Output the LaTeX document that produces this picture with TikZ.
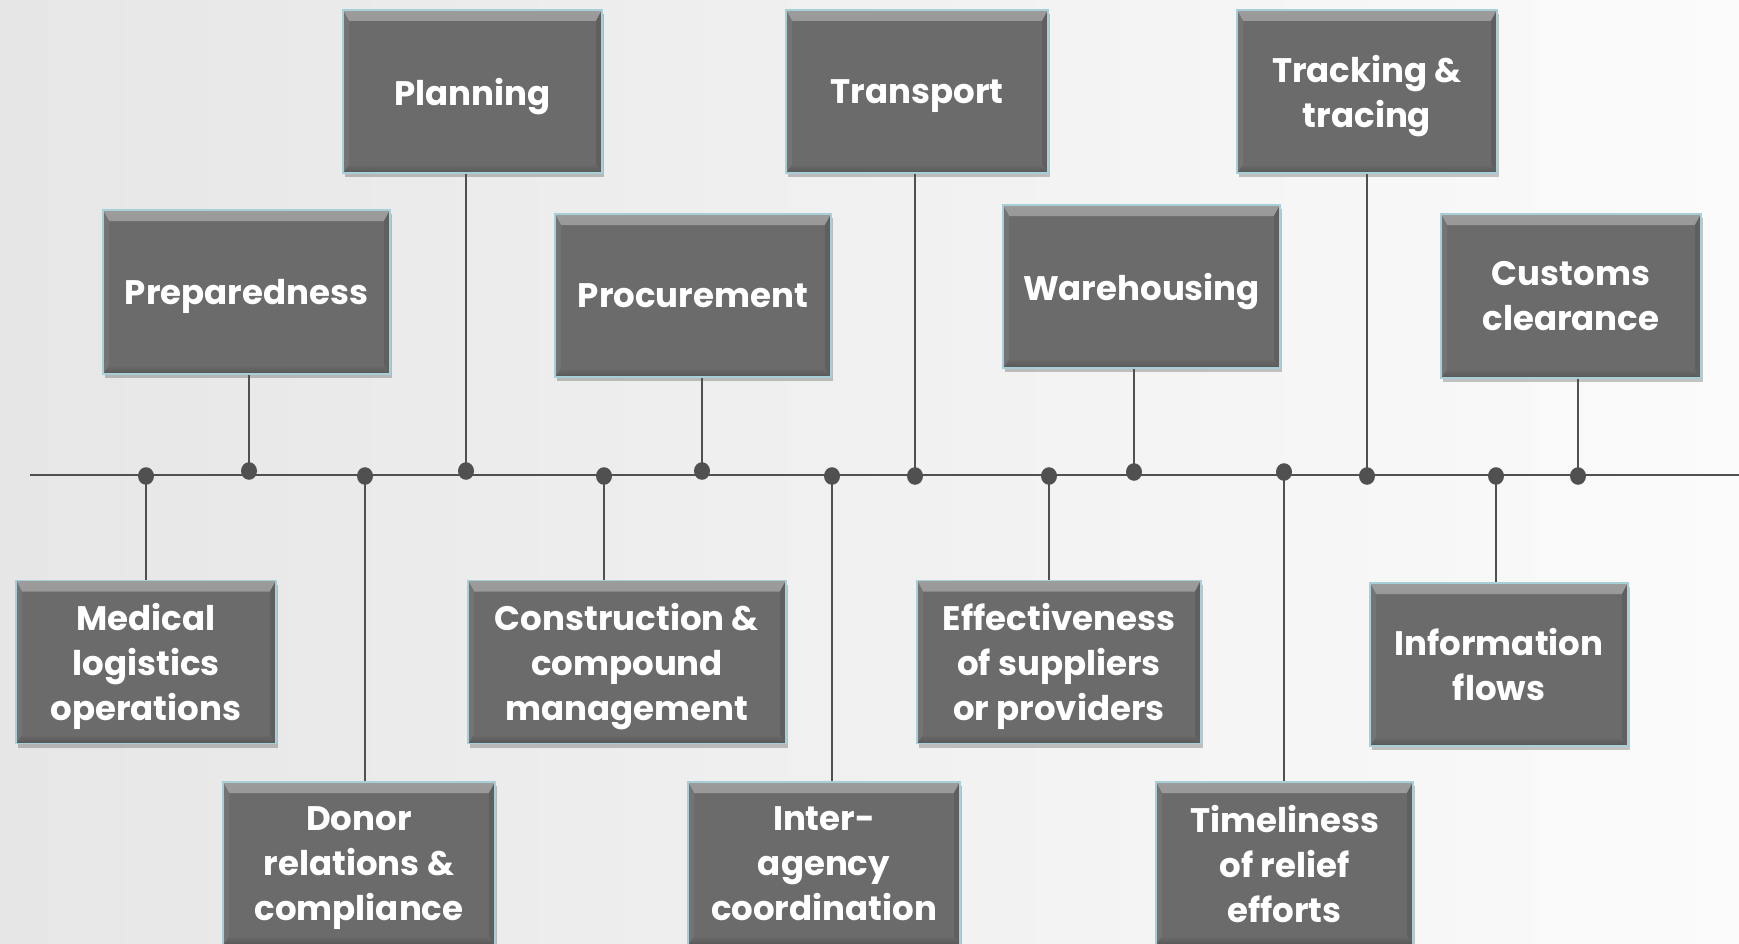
\documentclass[tikz,border=0pt]{standalone}
\usepackage{fontspec}
\setmainfont{Poppins}
\usetikzlibrary{shadows}
\definecolor{boxgray}{HTML}{6B6B6B}
\definecolor{bevtop}{HTML}{9C9C9C}
\definecolor{bevbot}{HTML}{575757}
\definecolor{bevleft}{HTML}{747474}
\definecolor{bevright}{HTML}{5F5F5F}
\definecolor{edgeblue}{HTML}{A6CFD8}
\definecolor{linegray}{HTML}{505050}
\definecolor{bgleft}{HTML}{E6E6E6}
\definecolor{bgright}{HTML}{FBFBFB}
\tikzset{
  bevel/.style={path picture={
    \shade[top color=bevtop, bottom color=boxgray]
      (path picture bounding box.north west) -- (path picture bounding box.north east)
      -- ([xshift=-6pt,yshift=-11pt]path picture bounding box.north east)
      -- ([xshift=6pt,yshift=-11pt]path picture bounding box.north west) -- cycle;
    \shade[top color=boxgray, bottom color=bevbot]
      (path picture bounding box.south west) -- (path picture bounding box.south east)
      -- ([xshift=-6pt,yshift=9pt]path picture bounding box.south east)
      -- ([xshift=6pt,yshift=9pt]path picture bounding box.south west) -- cycle;
    \fill[bevleft]
      (path picture bounding box.north west) -- ([xshift=6pt,yshift=-11pt]path picture bounding box.north west)
      -- ([xshift=6pt,yshift=9pt]path picture bounding box.south west)
      -- (path picture bounding box.south west) -- cycle;
    \fill[bevright]
      (path picture bounding box.north east) -- ([xshift=-6pt,yshift=-11pt]path picture bounding box.north east)
      -- ([xshift=-6pt,yshift=9pt]path picture bounding box.south east)
      -- (path picture bounding box.south east) -- cycle;
  }},
  box/.style={draw=edgeblue, line width=1.6pt, fill=boxgray, minimum height=163pt,
    inner sep=0pt, align=center, text=white, text depth=0pt,
    font=\fontsize{34}{45}\selectfont\bfseries,
    drop shadow={shadow xshift=1.5pt, shadow yshift=-4pt, opacity=0.22, fill=black},
    bevel},
  conn/.style={draw=linegray, line width=2pt},
  dotn/.style={circle, fill=linegray, inner sep=0pt, minimum size=16pt, yscale=1.1}
}
\begin{document}
\begin{tikzpicture}[x=1pt,y=-1pt]
\clip (0,0) rectangle (1739,944);
\shade[left color=bgleft, right color=bgright] (0,0) rectangle (1739,944);

% top row boxes
\node[box, minimum width=259pt] (planning) at (472.5,91.5) {Planning};
\node[box, minimum width=262pt] (transport) at (917,91.5) {Transport};
\node[box, minimum width=260pt] (tracking) at (1367,91.5) {Tracking \&\\tracing};
% second row
\node[box, minimum width=287pt, minimum height=164pt] (prep) at (246.5,292) {Preparedness};
\node[box, minimum width=276pt] (procure) at (693,295.5) {Procurement};
\node[box, minimum width=277pt] (ware) at (1141.5,286.5) {Warehousing};
\node[box, minimum width=260pt, minimum height=164pt] (customs) at (1571,296) {Customs\\clearance};
% third row
\node[box, minimum width=260pt] (medical) at (146,662) {Medical\\logistics\\operations};
\node[box, minimum width=318pt] (constr) at (627,662) {Construction \&\\compound\\management};
\node[box, minimum width=284pt] (effect) at (1059,662) {Effectiveness\\of suppliers\\or providers};
\node[box, minimum width=258pt] (info) at (1499,664.5) {Information\\flows};
% fourth row
\node[box, minimum width=272pt] (donor) at (359,863.5) {Donor\\relations \&\\compliance};
\node[box, minimum width=272pt] (inter) at (824,863.5) {Inter-\\agency\\coordination};
\node[box, minimum width=257pt] (timely) at (1284.5,863.5) {Timeliness\\of relief\\efforts};

% main line
\coordinate (L) at (30,475);
\coordinate (R) at (1739,475);
\draw[conn] (L) -- (R);

% junction points
\coordinate (pMed) at (146,476);
\coordinate (pPrep) at (249,471);
\coordinate (pDon) at (365,476);
\coordinate (pPlan) at (466,471);
\coordinate (pCon) at (604,476);
\coordinate (pProc) at (702,471);
\coordinate (pInt) at (832,476);
\coordinate (pTra) at (915,476);
\coordinate (pEff) at (1049,476);
\coordinate (pWar) at (1134,472);
\coordinate (pTim) at (1284,472);
\coordinate (pTrk) at (1367,476);
\coordinate (pInf) at (1496,476);
\coordinate (pCus) at (1578,476);

% connectors
\draw[conn] (planning.south -| pPlan) -- (pPlan);
\draw[conn] (transport.south -| pTra) -- (pTra);
\draw[conn] (tracking.south -| pTrk) -- (pTrk);
\draw[conn] (prep.south -| pPrep) -- (pPrep);
\draw[conn] (procure.south -| pProc) -- (pProc);
\draw[conn] (ware.south -| pWar) -- (pWar);
\draw[conn] (customs.south -| pCus) -- (pCus);
\draw[conn] (pMed) -- (medical.north -| pMed);
\draw[conn] (pCon) -- (constr.north -| pCon);
\draw[conn] (pEff) -- (effect.north -| pEff);
\draw[conn] (pInf) -- (info.north -| pInf);
\draw[conn] (pDon) -- (donor.north -| pDon);
\draw[conn] (pInt) -- (inter.north -| pInt);
\draw[conn] (pTim) -- (timely.north -| pTim);

% dots
\foreach \p in {pMed,pPrep,pDon,pPlan,pCon,pProc,pInt,pTra,pEff,pWar,pTim,pTrk,pInf,pCus}
  \node[dotn] (d\p) at (\p) {};
\end{tikzpicture}
\end{document}
